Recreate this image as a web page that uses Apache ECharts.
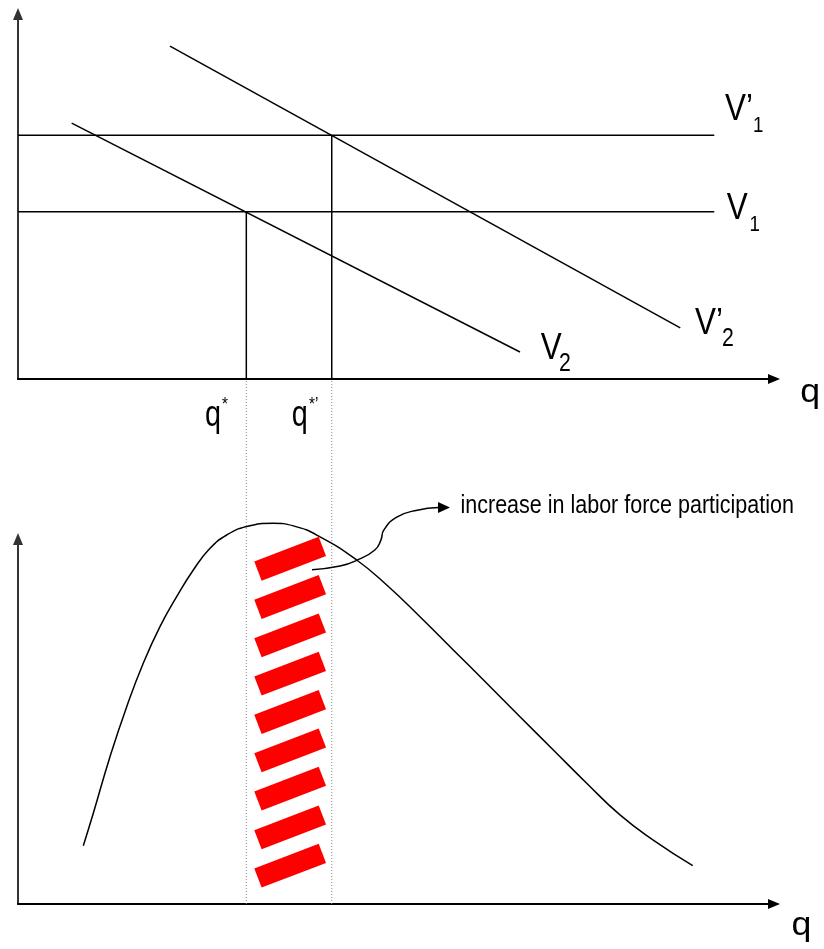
<!DOCTYPE html>
<html>
<head>
<meta charset="utf-8">
<script src="https://cdn.jsdelivr.net/npm/echarts@6/dist/echarts.min.js"></script>
<style>html,body{margin:0;padding:0;background:#fff}#c{width:824px;height:949px}</style>
</head>
<body>
<div id="c"></div>
<script>
// ---- data (arbitrary diagram units: q on 0..100, value on 0..100) ----
const qStar = 30.2;          // q*
const qStarPrime = 41.5;     // q*'
const levelV1 = 45.8;        // V1 horizontal level
const levelV1Prime = 66.8;   // V'1 horizontal level
const levelEndQ = 92.1;      // where the horizontal V lines end
const lineV2 = [[7.1, 70.1], [66.4, 7.4]];
const lineV2Prime = [[20.1, 91.2], [87.6, 14.0]];
const topOfLowerPanel = 143.8; // upper axis level seen from the lower panel

const curveQ = [8.64, 9.96, 12.17, 14.38, 16.57, 18.78, 20.99, 23.19, 25.40, 27.61, 30.25, 33.77, 36.42, 39.95, 44.80, 48.77, 53.17, 57.58, 62.00, 66.40, 70.81, 75.22, 79.63, 84.03, 89.25];
const curveN = [15.97, 24.85, 40.36, 54.05, 65.95, 75.97, 84.19, 91.51, 97.45, 101.1, 103.4, 104.3, 103.6, 100.6, 94.25, 87.4, 78.7, 69.6, 60.5, 51.3, 42.2, 33.1, 24.4, 17.5, 10.5];

const hatchQ = 36.0;
const hatchN = [94.6, 84.1, 73.6, 63.1, 52.6, 42.1, 31.6, 21.0, 10.5];

const calloutQ = [38.89, 42.6, 44.84, 47.2, 48.0, 48.4, 50.1, 52.8, 55.6];
const calloutN = [91.6, 92.6, 94.2, 97.0, 99.7, 102.5, 106.0, 107.9, 108.6];
const calloutTip = [56.35, 108.6];

const labelTexts = {
  v1p: 'V\u2019', v1pSub: '1',
  v1: 'V', v1Sub: '1',
  v2p: 'V\u2019', v2pSub: '2',
  v2: 'V', v2Sub: '2',
  qs: 'q', qsStar: '*',
  qsp: 'q', qspStar: '*\u2019',
  axisQ: 'q',
  callout: 'increase in labor force participation'
};

// ---- build option ----
const FONT = '"Liberation Sans", Arial, sans-serif';
function txt(text, x, y, size, sx) {
  return {
    type: 'text', x: x, y: y, scaleX: sx, scaleY: 1, silent: true, z: 100,
    style: {
      text: text, x: 0, y: 0, fill: '#000',
      fontSize: size, fontFamily: FONT,
      align: 'left', textAlign: 'left',
      verticalAlign: 'middle', textVerticalAlign: 'middle'
    }
  };
}
function axisPair(idx, yColor) {
  const common = {
    type: 'value', min: 0, max: 100, gridIndex: idx,
    splitLine: {show: false}, axisTick: {show: false}, axisLabel: {show: false}
  };
  return {
    x: Object.assign({}, common, {
      axisLine: {show: true, onZero: false, symbol: ['none', 'triangle'], symbolSize: [10, 12],
        lineStyle: {color: '#000', width: 2}}
    }),
    y: Object.assign({}, common, {
      axisLine: {show: true, onZero: false, symbol: ['none', 'triangle'], symbolSize: [10, 12],
        lineStyle: {color: yColor, width: 2}}
    })
  };
}
const a0 = axisPair(0, '#333');
const a1 = axisPair(1, '#333');
const blackLine = {color: '#000', width: 1.5};
function seg(data, grid, style, extra) {
  return Object.assign({
    type: 'line', xAxisIndex: grid, yAxisIndex: grid, data: data, symbol: 'none',
    lineStyle: style, silent: true, animation: false, clip: false
  }, extra || {});
}

const option = {
  animation: false,
  grid: [
    {left: 18, right: 50, top: 14, bottom: 570},
    {left: 18, right: 50, top: 539, bottom: 45}
  ],
  xAxis: [a0.x, a1.x],
  yAxis: [a0.y, a1.y],
  series: [
    seg([[0, levelV1Prime], [levelEndQ, levelV1Prime]], 0, blackLine),
    seg([[0, levelV1], [levelEndQ, levelV1]], 0, blackLine),
    seg(lineV2Prime, 0, blackLine),
    seg(lineV2, 0, blackLine),
    seg([[qStar, 0], [qStar, levelV1]], 0, blackLine),
    seg([[qStarPrime, 0], [qStarPrime, levelV1Prime]], 0, blackLine),
    seg([[qStar, 0], [qStar, topOfLowerPanel]], 1, {color: '#888', width: 1, type: [1, 2]}),
    seg([[qStarPrime, 0], [qStarPrime, topOfLowerPanel]], 1, {color: '#888', width: 1, type: [1, 2]}),
    {
      type: 'scatter', xAxisIndex: 1, yAxisIndex: 1, silent: true, animation: false, clip: false,
      symbol: 'rect', symbolSize: [69, 20.5], symbolRotate: 21,
      itemStyle: {color: '#ff0000', opacity: 1},
      data: hatchN.map(v => [hatchQ, v]), z: 3
    },
    seg(curveQ.map((q, i) => [q, curveN[i]]), 1, blackLine, {smooth: 0.5, smoothMonotone: 'none', z: 4}),
    seg(calloutQ.map((q, i) => [q, calloutN[i]]), 1, blackLine, {smooth: 0.5, smoothMonotone: 'none', z: 4}),
    {
      type: 'scatter', xAxisIndex: 1, yAxisIndex: 1, silent: true, animation: false, clip: false,
      symbol: 'path://M0,0L12,5.5L0,11Z', symbolSize: [12, 11],
      itemStyle: {color: '#000', opacity: 1}, data: [calloutTip], z: 5
    }
  ],
  graphic: [
    txt(labelTexts.v1p, 725, 110.2, 37, 0.85),
    txt(labelTexts.v1pSub, 753, 126.4, 22, 0.85),
    txt(labelTexts.v1, 726.7, 208.9, 37, 0.85),
    txt(labelTexts.v1Sub, 749.6, 225.4, 22, 0.85),
    txt(labelTexts.v2p, 695, 323.9, 37, 0.85),
    txt(labelTexts.v2pSub, 722, 339.6, 25, 0.85),
    txt(labelTexts.v2, 540.7, 348.9, 37, 0.85),
    txt(labelTexts.v2Sub, 559, 364.6, 25, 0.85),
    txt(labelTexts.qs, 205, 415.6, 36, 0.8),
    txt(labelTexts.qsStar, 222, 404.7, 18, 0.85),
    txt(labelTexts.qsp, 291.7, 415.6, 36, 0.8),
    txt(labelTexts.qspStar, 309, 404.7, 18, 0.85),
    txt(labelTexts.axisQ, 800.3, 392.8, 34, 1.05),
    txt(labelTexts.axisQ, 791.6, 926.1, 34, 1.05),
    txt(labelTexts.callout, 460.5, 506.3, 25, 0.86)
  ]
};
const chart = echarts.init(document.getElementById('c'));
chart.setOption(option);
</script>
</body>
</html>
